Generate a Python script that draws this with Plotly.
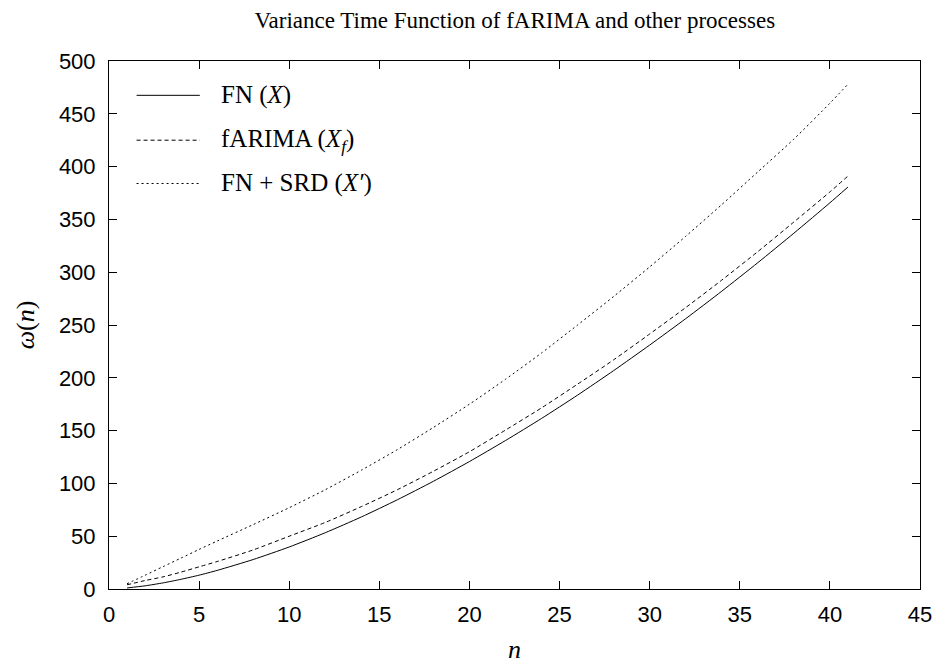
import plotly.graph_objects as go

# Aggregation level n
n_vals = [1, 2, 3, 4, 5, 6, 8, 10, 12, 14, 16, 18, 20, 22, 24, 26, 28, 30, 32, 34, 36, 38, 40, 41]

# Variance time function omega(n) for each process
fn_vals = [1, 3.0, 5.8, 9.2, 13.1, 17.6, 27.9, 39.8, 53.3, 68.2, 84.5, 102.0, 120.7,
           140.6, 161.5, 183.6, 206.8, 231.0, 256.0, 282.0, 309.0, 336.9, 365.7, 380.6]
farima_vals = [4, 8, 11.5, 16, 21, 26, 37, 50, 63, 78, 94, 111.5, 130,
               150.5, 171.5, 194, 217, 241.5, 266.5, 292.5, 319.5, 347.5, 376, 391]
srd_vals = [5, 13, 21.2, 29.3, 37.5, 45.4, 61, 77, 94, 112.5, 132, 153, 175,
            198.6, 223.5, 250, 277, 305, 334, 364, 395, 426, 460, 478]

x_ticks = [0, 5, 10, 15, 20, 25, 30, 35, 40, 45]
y_ticks = [0, 50, 100, 150, 200, 250, 300, 350, 400, 450, 500]

series = [
    ("FN (<i>X</i>)", fn_vals, "solid"),
    ("fARIMA (<i>X<sub>f</sub></i>)", farima_vals, "4px,3px"),
    ("FN + SRD (<i>X′</i>)", srd_vals, "2px,3px"),
]

SERIF = "Liberation Serif, DejaVu Serif, serif"
SANS = "Liberation Sans, Arial, sans-serif"

fig = go.Figure()
for name, vals, dash in series:
    fig.add_trace(go.Scatter(
        x=n_vals, y=vals, mode="lines", name=name, showlegend=False,
        line=dict(color="black", width=1, dash=dash, shape="spline", smoothing=0.6),
    ))

# Key drawn in the upper-left corner of the plot area
key_y = [0.935, 0.850, 0.768]
for (name, _, dash), ky in zip(series, key_y):
    fig.add_shape(type="line", xref="paper", yref="paper",
                  x0=0.034, x1=0.112, y0=ky, y1=ky,
                  line=dict(color="black", width=1, dash=dash))
    fig.add_annotation(xref="paper", yref="paper", x=0.136, y=ky, text=name,
                       showarrow=False, xanchor="left", yanchor="middle",
                       font=dict(family=SERIF, size=25, color="black"))

axis_common = dict(
    showgrid=False, zeroline=False, showline=True, linecolor="black", linewidth=1,
    mirror="ticks", ticks="inside", ticklen=8, tickcolor="black", tickwidth=1,
    tickfont=dict(family=SANS, size=22, color="black"), automargin=False,
)

fig.update_layout(
    width=936, height=664,
    margin=dict(l=109, r=16, t=61, b=75),
    paper_bgcolor="white", plot_bgcolor="white",
    title=dict(text="Variance Time Function of fARIMA and other processes",
               x=0.55, xanchor="center", y=0.97, yanchor="middle",
               font=dict(family=SERIF, size=23, color="black")),
    xaxis=dict(range=[0, 45], tickvals=x_ticks, ticklabelstandoff=6,
               title=dict(text="<i>n</i>", font=dict(family=SERIF, size=26, color="black"),
                          standoff=14),
               **axis_common),
    yaxis=dict(range=[0, 500], tickvals=y_ticks, ticklabelstandoff=8,
               title=dict(text="<i>ω</i>(<i>n</i>)", font=dict(family=SERIF, size=26, color="black"),
                          standoff=16),
               **axis_common),
)

fig.write_html("out.html")
